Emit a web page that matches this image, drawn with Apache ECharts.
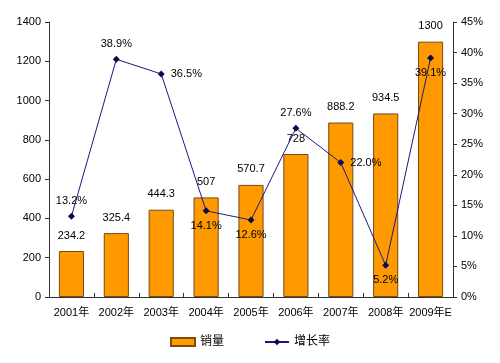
<!DOCTYPE html>
<html><head><meta charset="utf-8">
<script src="https://cdn.jsdelivr.net/npm/echarts@6/dist/echarts.min.js"></script>
<style>html,body{margin:0;padding:0;background:#fff}#c{width:500px;height:363px}</style>
</head><body><div id="c"></div>
<script>
const categories = ['2001年','2002年','2003年','2004年','2005年','2006年','2007年','2008年','2009年E'];
const sales = [234.2, 325.4, 444.3, 507, 570.7, 728, 888.2, 934.5, 1300];
const growth = [13.2, 38.9, 36.5, 14.1, 12.6, 27.6, 22.0, 5.2, 39.1];
const growthLabelPos = ['top','top','right','bottom','bottom','top','right','bottom','bottom'];
const leftTicks = {min:0, max:1400, interval:200};
const rightTicks = {min:0, max:45, interval:5};

const chart = echarts.init(document.getElementById('c'), null, {renderer:'canvas'});
const font = 'Arial, "Liberation Sans", "Noto Sans CJK SC", sans-serif';
chart.setOption({
  animation:false,
  textStyle:{fontFamily:font},
  grid:{left:49, right:47, top:22, bottom:66},
  legend:{
    bottom:10, left:'center', itemGap:40, itemWidth:24, itemHeight:8,
    textStyle:{fontSize:12, color:'#000', fontFamily:font},
    data:[{name:'销量', icon:'rect'}, {name:'增长率'}]
  },
  xAxis:{
    type:'category', data:categories,
    axisLine:{lineStyle:{color:'#333'}},
    axisTick:{show:true, interval:0, alignWithLabel:false, lineStyle:{color:'#333'}, length:4, inside:true},
    axisLabel:{interval:0, fontSize:11, color:'#000', margin:10}
  },
  yAxis:[
    {type:'value', min:leftTicks.min, max:leftTicks.max, interval:leftTicks.interval,
     splitLine:{show:false}, axisLine:{show:true, lineStyle:{color:'#333'}},
     axisTick:{show:true, length:4, lineStyle:{color:'#333'}},
     axisLabel:{fontSize:11, color:'#000', formatter:v=>String(v)}},
    {type:'value', min:rightTicks.min, max:rightTicks.max, interval:rightTicks.interval,
     splitLine:{show:false}, axisLine:{show:true, lineStyle:{color:'#333'}},
     axisTick:{show:true, length:4, lineStyle:{color:'#333'}},
     axisLabel:{fontSize:11, color:'#000', formatter:'{value}%'}}
  ],
  series:[
    {name:'销量', type:'bar', data:sales, barWidth:'56%',
     itemStyle:{color:'#FF9900', borderColor:'#7a4a10', borderWidth:1},
     label:{show:true, position:'top', distance:10, fontSize:11, color:'#000'}},
    {name:'增长率', type:'line', yAxisIndex:1,
     data:growth.map((v,i)=>({value:v, label:{position:growthLabelPos[i]}})),
     symbol:'diamond', symbolSize:7,
     lineStyle:{color:'#1a1a80', width:1},
     itemStyle:{color:'#0a0a50'},
     label:{show:true, fontSize:11, color:'#000', distance:6, formatter:p=>p.value.toFixed(1)+'%'},
     z:5}
  ]
});
</script></body></html>
